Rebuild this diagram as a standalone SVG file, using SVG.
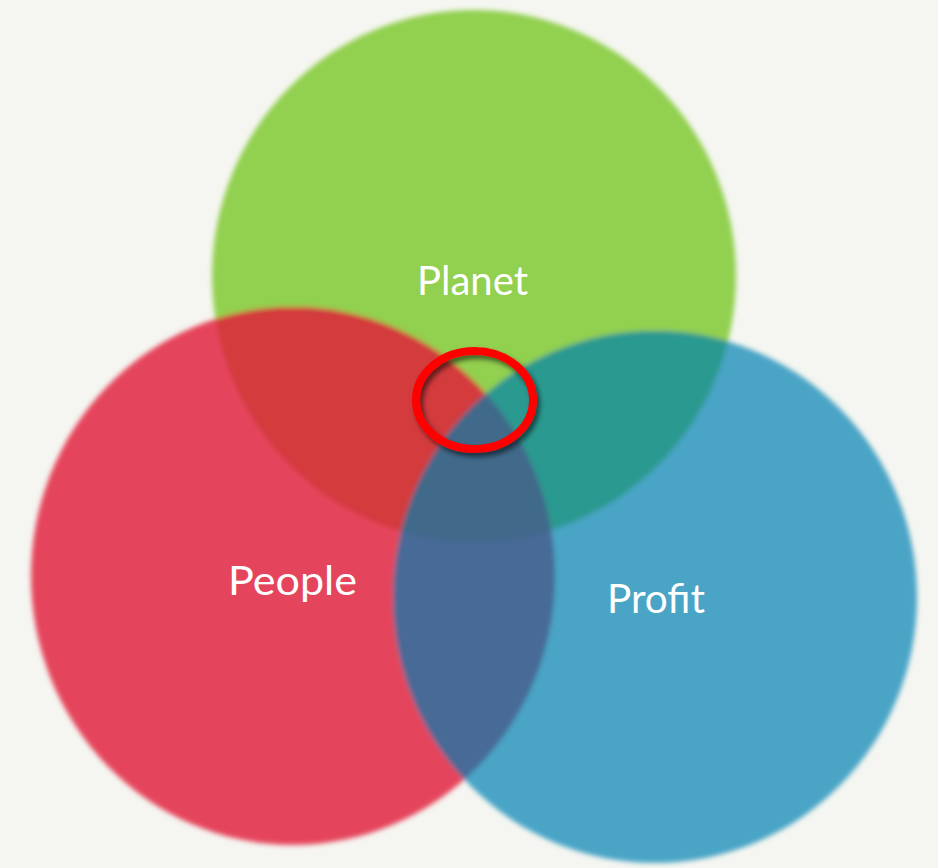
<svg xmlns="http://www.w3.org/2000/svg" width="938" height="868" viewBox="0 0 938 868">
<style>
.lbl{font-family:Lato,"Open Sans","Liberation Sans",sans-serif;font-size:41px;fill:#ffffff;text-anchor:middle}
</style>
<defs>
<filter id="soft" x="-10%" y="-10%" width="120%" height="120%"><feGaussianBlur stdDeviation="2.6"/></filter>
<filter id="shadow" x="-20%" y="-20%" width="140%" height="140%">
<feGaussianBlur in="SourceAlpha" stdDeviation="2.5"/>
<feOffset dx="3" dy="4" result="b"/>
<feFlood flood-color="#000" flood-opacity="0.55"/>
<feComposite in2="b" operator="in"/>
<feMerge><feMergeNode/><feMergeNode in="SourceGraphic"/></feMerge>
</filter>
<clipPath id="cg"><ellipse cx="474" cy="276" rx="262" ry="266"/></clipPath>
<clipPath id="cr"><ellipse cx="293" cy="576" rx="262" ry="269"/></clipPath>
</defs>
<rect width="938" height="868" fill="#f5f6f1"/>
<g filter="url(#soft)">
<g id="planet"><ellipse cx="474" cy="276" rx="262" ry="266" fill="#92d050"/></g>
<g id="people"><ellipse cx="293" cy="576" rx="262" ry="269" fill="#e5455b"/></g>
<g id="profit"><ellipse cx="655" cy="597" rx="262" ry="266" fill="#4aa4c6"/></g>
<g id="overlaps">
<ellipse cx="293" cy="576" rx="262" ry="269" fill="#d33b3c" clip-path="url(#cg)"/>
<ellipse cx="655" cy="597" rx="262" ry="266" fill="#2b9990" clip-path="url(#cg)"/>
<ellipse cx="655" cy="597" rx="262" ry="266" fill="#476b96" clip-path="url(#cr)"/>
<g clip-path="url(#cg)"><ellipse cx="655" cy="597" rx="262" ry="266" fill="#3f698a" clip-path="url(#cr)"/></g>
</g>
</g>
<g id="labels">
<text class="lbl" x="472.5" y="295" textLength="111" lengthAdjust="spacingAndGlyphs">Planet</text>
<text class="lbl" x="292.5" y="595" textLength="129" lengthAdjust="spacingAndGlyphs">People</text>
<text class="lbl" x="656" y="613" textLength="98" lengthAdjust="spacingAndGlyphs">Profit</text>
</g>
<g id="highlight">
<ellipse cx="474.5" cy="400" rx="58.5" ry="49" fill="none" stroke="#ff0000" stroke-width="8" filter="url(#shadow)"/>
</g>
</svg>
